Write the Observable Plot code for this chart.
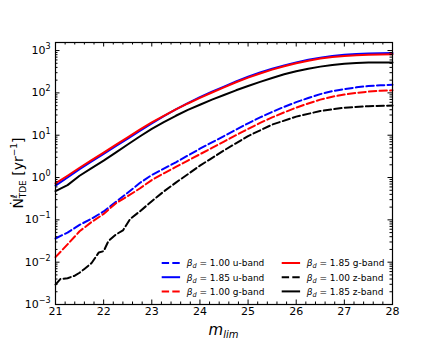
<!DOCTYPE html>
<html>
<head>
<meta charset="utf-8">
<script src="https://cdn.jsdelivr.net/npm/d3@7"></script>
<script src="https://cdn.jsdelivr.net/npm/@observablehq/plot@0.6"></script>
<style>
  body { margin: 0; background: #fff; }
  svg { font-family: "DejaVu Sans", sans-serif; }
</style>
</head>
<body>
<div id="chart"></div>
<script>
// ---- data ----
const mGrid = [21, 21.25, 21.5, 21.75, 22, 22.25, 22.5, 22.75, 23, 23.25, 23.5, 23.75, 24, 24.25, 24.5,
  24.75, 25, 25.25, 25.5, 25.75, 26, 26.25, 26.5, 26.75, 27, 27.25, 27.5, 27.75, 28];
// u-band, beta_d = 1.00 (dashed blue)
const uB100 = [0.0363, 0.0501, 0.0759, 0.107, 0.158, 0.263, 0.437, 0.741, 1.15, 1.62, 2.29, 3.31, 4.79, 6.76, 9.55,
  13.5, 19.1, 26.3, 35.5, 46.8, 60.3, 75.9, 93.3, 110, 123, 135, 145, 151, 155];
// u-band, beta_d = 1.85 (solid blue)
const uB185 = [0.646, 1.00, 1.58, 2.40, 3.63, 5.50, 8.32, 12.6, 19.1, 28.2, 40.7, 57.5, 79.4, 107, 141,
  186, 240, 302, 372, 447, 525, 603, 676, 741, 794, 832, 851, 861, 871];
// g-band, beta_d = 1.00 (dashed red)
const gB100 = [0.0132, 0.0263, 0.0537, 0.0891, 0.138, 0.245, 0.363, 0.550, 0.871, 1.26, 1.78, 2.51, 3.55, 5.01, 7.08,
  10.0, 14.1, 19.5, 26.3, 34.7, 44.7, 56.2, 69.2, 81.3, 91.2, 100, 107, 112, 115];
// g-band, beta_d = 1.85 (solid red)
const gB185 = [0.724, 1.10, 1.70, 2.57, 3.89, 5.89, 8.91, 13.5, 20.0, 28.8, 40.7, 56.2, 75.9, 102, 135,
  178, 229, 288, 355, 427, 501, 575, 646, 708, 741, 776, 794, 804, 813];
// z-band, beta_d = 1.85 (solid black)
const zB185 = [0.479, 0.661, 1.10, 1.66, 2.51, 3.89, 6.03, 9.33, 14.1, 20.4, 28.8, 39.8, 52.5, 69.2, 89.1,
  115, 145, 182, 224, 275, 324, 372, 417, 457, 490, 507, 519, 525, 525];
// z-band, beta_d = 1.00 (dashed black) on its own grid
const mZ100 = [21, 21.1, 21.25, 21.4, 21.5, 21.6, 21.75, 21.9, 22.0, 22.1, 22.25, 22.4, 22.55, 22.75, 23,
  23.25, 23.5, 23.75, 24, 24.5, 25, 25.5, 26, 26.5, 27, 27.5, 28];
const zB100 = [0.00295, 0.00398, 0.00417, 0.00479, 0.00562, 0.00692, 0.00955, 0.0170, 0.0182, 0.0316, 0.0447, 0.0562, 0.105, 0.158, 0.275,
  0.468, 0.759, 1.20, 1.91, 4.37, 9.55, 17.8, 27.5, 37.2, 44.7, 48.5, 50.1];

const xTicks = [21, 22, 23, 24, 25, 26, 27, 28];
const xMinor = d3.range(21, 28.001, 0.2).map(v => +v.toFixed(1)).filter(v => !xTicks.includes(v));
const yTicks = [1e-3, 1e-2, 1e-1, 1, 10, 100, 1000];
const yMinor = [];
for (let e = -3; e <= 3; e++) for (let k = 2; k <= 9; k++) { const v = k * Math.pow(10, e); if (v <= 1550) yMinor.push(v); }

const series = [
  {key: "u100", beta: "1.00", band: "u-band", color: "#0000ff", dashed: true,  m: mGrid, v: uB100},
  {key: "u185", beta: "1.85", band: "u-band", color: "#0000ff", dashed: false, m: mGrid, v: uB185},
  {key: "g100", beta: "1.00", band: "g-band", color: "#ff0000", dashed: true,  m: mGrid, v: gB100},
  {key: "g185", beta: "1.85", band: "g-band", color: "#ff0000", dashed: false, m: mGrid, v: gB185},
  {key: "z100", beta: "1.00", band: "z-band", color: "#000000", dashed: true,  m: mZ100, v: zB100},
  {key: "z185", beta: "1.85", band: "z-band", color: "#000000", dashed: false, m: mGrid, v: zB185}
];
const DASH = "7.4,3.2";

// ---- layout ----
const W = 436, H = 349;
const mL = 55, mR = 44, mT = 42, mB = 45;
const pw = W - mL - mR, ph = H - mT - mB;
const majLen = 4.5, minLen = 2.5;

const lineMarks = series.map(s => Plot.line(s.m.map((m, i) => ({m, v: s.v[i]})), {
  x: "m", y: "v", stroke: s.color, strokeWidth: 2,
  strokeDasharray: s.dashed ? DASH : null, curve: "linear"
}));

const chart = Plot.plot({
  width: W, height: H,
  marginLeft: mL, marginRight: mR, marginTop: mT, marginBottom: mB,
  x: {domain: [21, 28], label: null},
  y: {type: "log", domain: [1e-3, 1550], label: null},
  style: {fontFamily: "DejaVu Sans", background: "white", color: "black"},
  marks: [
    ...lineMarks,
    // inward ticks on all sides
    Plot.tickX(xTicks, {x: d => d, insetTop: ph - majLen, stroke: "black"}),
    Plot.tickX(xTicks, {x: d => d, insetBottom: ph - majLen, stroke: "black"}),
    Plot.tickX(xMinor, {x: d => d, insetTop: ph - minLen, stroke: "black"}),
    Plot.tickX(xMinor, {x: d => d, insetBottom: ph - minLen, stroke: "black"}),
    Plot.tickY(yTicks, {y: d => d, insetRight: pw - majLen, stroke: "black"}),
    Plot.tickY(yTicks, {y: d => d, insetLeft: pw - majLen, stroke: "black"}),
    Plot.tickY(yMinor, {y: d => d, insetRight: pw - minLen, stroke: "black"}),
    Plot.tickY(yMinor, {y: d => d, insetLeft: pw - minLen, stroke: "black"}),
    Plot.frame({stroke: "black", strokeWidth: 1.2}),
    Plot.axisX(xTicks, {tickSize: 0, tickPadding: 3, fontSize: 11, tickFormat: d => String(d), label: null}),
    Plot.axisY(yTicks, {tickSize: 0, tickPadding: 5, fontSize: 11,
      tickFormat: d => "10^" + Math.round(Math.log10(d)), label: null})
  ]
});
document.getElementById("chart").appendChild(chart);

const svg = d3.select(chart);

// superscript exponents on the y tick labels
svg.selectAll('g[aria-label="y-axis tick label"] text').each(function() {
  const t = d3.select(this);
  const s = t.text();
  if (!s.includes("^")) return;
  const [base, ex] = s.split("^");
  t.text(null);
  t.append("tspan").text(base);
  t.append("tspan").attr("font-size", 8).attr("dy", -5).text(ex.replace("-", "\u2212"));
});

// y axis label: N-dot ^l _TDE [yr^-1]
const yl = svg.append("text")
  .attr("transform", `translate(23,${mT + ph / 2}) rotate(-90)`)
  .attr("text-anchor", "middle").attr("font-size", 14).attr("fill", "black");
yl.append("tspan").text("\u1E44");
yl.append("tspan").attr("font-size", 9).attr("font-style", "italic").attr("dy", -6).text("\u2113");
yl.append("tspan").attr("font-size", 9).attr("dx", -4).attr("dy", 9).text("TDE");
yl.append("tspan").attr("dy", -3).text(" [yr");
yl.append("tspan").attr("font-size", 9).attr("dy", -6).text("\u22121");
yl.append("tspan").attr("dy", 6).text("]");

// x axis label: m_lim
const xl = svg.append("text")
  .attr("x", mL + pw / 2).attr("y", 335)
  .attr("text-anchor", "middle").attr("font-size", 15).attr("font-style", "italic").attr("fill", "black");
xl.append("tspan").text("m");
xl.append("tspan").attr("font-size", 10).attr("dy", 3).text("lim");

// legend (2 columns x 3 rows, lower right inside the axes)
const leg = svg.append("g").attr("font-size", 9).attr("fill", "black").attr("text-anchor", "start");
series.forEach((s, i) => {
  const col = Math.floor(i / 3), row = i % 3;
  const x0 = 161.7 + col * 120, y0 = 263 + row * 14.2;
  leg.append("line").attr("x1", x0).attr("x2", x0 + 18.4).attr("y1", y0).attr("y2", y0)
    .attr("stroke", s.color).attr("stroke-width", 2)
    .attr("stroke-dasharray", s.dashed ? DASH : null);
  const t = leg.append("text").attr("x", x0 + 25).attr("y", y0 + 3.3).attr("text-anchor", "start");
  t.append("tspan").attr("font-style", "italic").text("\u03B2");
  t.append("tspan").attr("font-style", "italic").attr("font-size", 6.5).attr("dy", 2).text("d");
  t.append("tspan").attr("dy", -2).text(" = " + s.beta + " " + s.band);
});
</script>
</body>
</html>
